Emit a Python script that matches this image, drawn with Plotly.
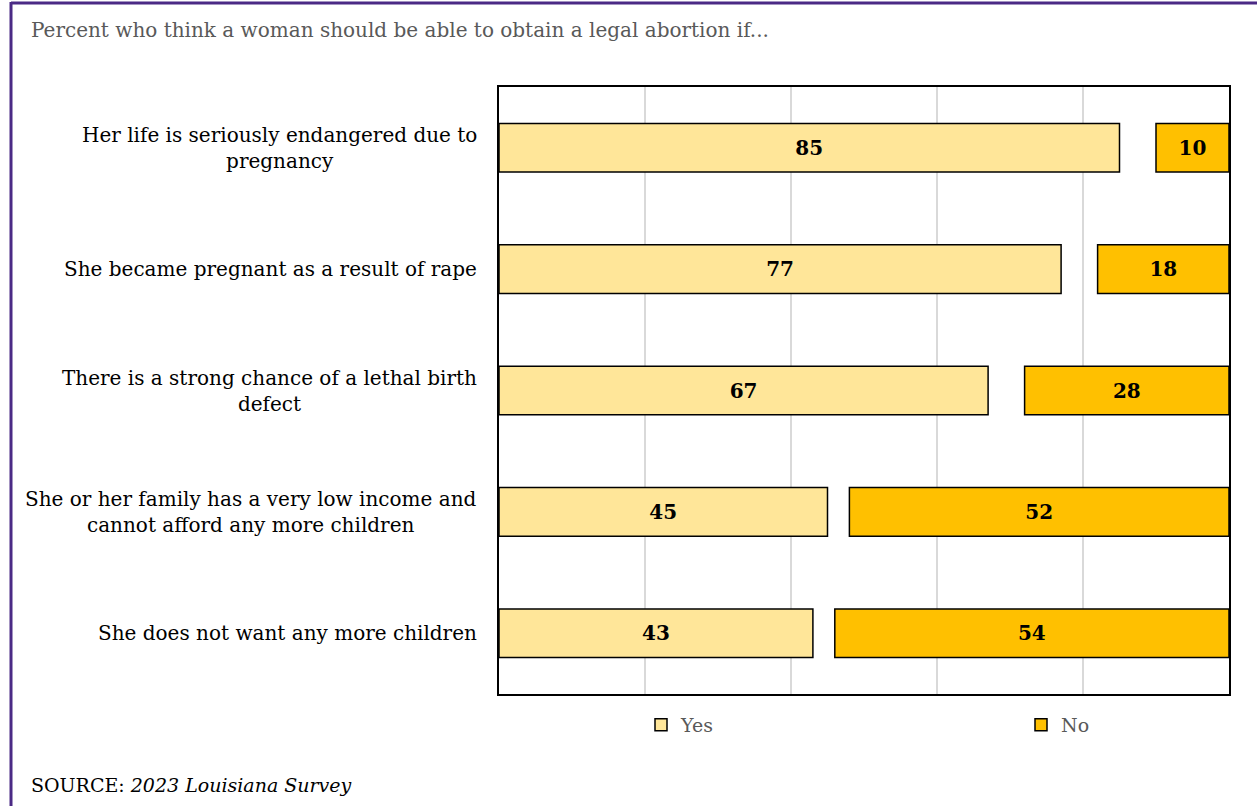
import plotly.graph_objects as go

categories = [
    "Her life is seriously endangered due to<br>pregnancy",
    "She became pregnant as a result of rape",
    "There is a strong chance of a lethal birth<br>defect",
    "She or her family has a very low income and<br>cannot afford any more children",
    "She does not want any more children",
]
yes_vals = [85, 77, 67, 45, 43]
no_vals = [10, 18, 28, 52, 54]

W, H = 1257, 806
L, R, T, B = 499, 28, 87, 112
PW, PH = W - L - R, H - T - B
FONT = "DejaVu Serif"


def px(xp):
    return (xp - L) / PW


def py(yp):
    return 1 - (yp - T) / PH


fig = go.Figure()
fig.add_trace(go.Bar(
    name="Yes", y=categories, x=yes_vals, base=[0] * len(yes_vals), orientation="h",
    marker=dict(color="#FFE699", line=dict(color="#000000", width=1.5)),
    width=0.4, text=[str(v) for v in yes_vals], textposition="inside",
    insidetextanchor="middle",
    textfont=dict(family=FONT, size=20, color="#000000", weight="bold"),
    hoverinfo="skip", legend="legend",
))
fig.add_trace(go.Bar(
    name="No", y=categories, x=no_vals, base=[100 - v for v in no_vals], orientation="h",
    marker=dict(color="#FFC000", line=dict(color="#000000", width=1.5)),
    width=0.4, text=[str(v) for v in no_vals], textposition="inside",
    insidetextanchor="middle",
    textfont=dict(family=FONT, size=20, color="#000000", weight="bold"),
    hoverinfo="skip", legend="legend2",
))

legend_common = dict(orientation="h", yanchor="middle", xanchor="left",
                     font=dict(family=FONT, size=19, color="#595959"),
                     itemclick=False, itemdoubleclick=False, itemwidth=30,
                     bgcolor="rgba(0,0,0,0)")

annotations = [
    dict(text="Percent who think a woman should be able to obtain a legal abortion if...",
         xref="paper", yref="paper", x=px(29), y=py(30),
         xanchor="left", yanchor="middle", showarrow=False,
         font=dict(family=FONT, size=20, color="#595959")),
    dict(text="SOURCE: <i>2023 Louisiana Survey</i>",
         xref="paper", yref="paper", x=px(29), y=py(785),
         xanchor="left", yanchor="middle", showarrow=False,
         font=dict(family=FONT, size=19, color="#000000")),
]
for c in categories:
    annotations.append(dict(text=c, xref="paper", yref="y", x=px(479), y=c,
                            xanchor="right", yanchor="middle", align="center",
                            showarrow=False,
                            font=dict(family=FONT, size=20, color="#000000")))

fig.update_layout(
    width=W, height=H,
    margin=dict(l=L, r=R, t=T, b=B),
    barmode="overlay",
    paper_bgcolor="white", plot_bgcolor="white",
    font=dict(family=FONT, size=18, color="#000000"),
    showlegend=True,
    legend=dict(x=px(641), y=py(725), **legend_common),
    legend2=dict(x=px(1021), y=py(725), **legend_common),
    xaxis=dict(range=[0, 100], tickvals=[20, 40, 60, 80], showticklabels=False,
               showgrid=True, gridcolor="#D9D9D9", gridwidth=1.5, zeroline=False,
               showline=True, linecolor="#000000", linewidth=1.5, mirror=True,
               fixedrange=True),
    yaxis=dict(autorange="reversed", showgrid=False, showline=True, linecolor="#000000",
               linewidth=1.5, mirror=True, ticks="", showticklabels=False,
               fixedrange=True),
    annotations=annotations,
    shapes=[
        dict(type="line", xref="paper", yref="paper",
             x0=px(11), x1=px(W + 5), y0=py(3), y1=py(3),
             line=dict(color="#4B2A85", width=3)),
        dict(type="line", xref="paper", yref="paper",
             x0=px(11), x1=px(11), y0=py(2), y1=py(H + 5),
             line=dict(color="#4B2A85", width=3)),
    ],
)

fig.write_html("out.html", config={"displayModeBar": False})
